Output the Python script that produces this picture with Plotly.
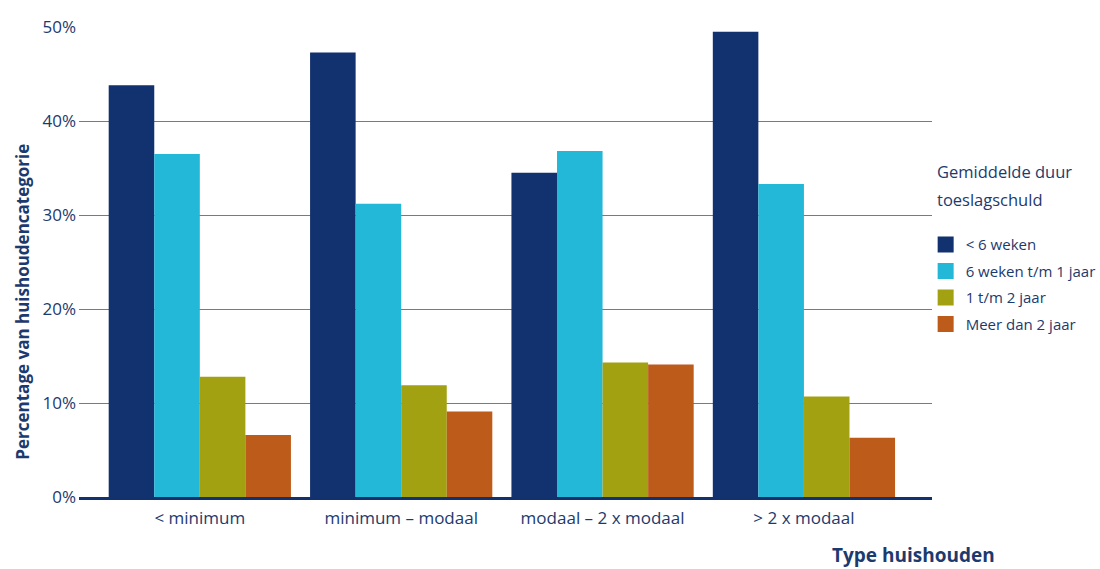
import plotly.graph_objects as go

categories = ["< minimum", "minimum – modaal", "modaal – 2 x modaal", "> 2 x modaal"]
series_names = ["< 6 weken", "6 weken t/m 1 jaar", "1 t/m 2 jaar", "Meer dan 2 jaar"]
lt_6_weken = [43.8, 47.3, 34.5, 49.5]
w6_tm_1jaar = [36.5, 31.2, 36.8, 33.3]
j1_tm_2jaar = [12.8, 11.9, 14.3, 10.7]
meer_2jaar = [6.6, 9.1, 14.1, 6.3]
y_ticks = [0, 10, 20, 30, 40, 50]
y_tick_labels = ["0%", "10%", "20%", "30%", "40%", "50%"]

colors = ["#12316f", "#23b7d8", "#a2a112", "#bd5b1a"]
text_color = "#1c3a6e"
font_family = "'Open Sans', sans-serif"

fig = go.Figure()
for i, (name, vals) in enumerate(zip(series_names, [lt_6_weken, w6_tm_1jaar, j1_tm_2jaar, meer_2jaar])):
    fig.add_trace(go.Bar(x=categories, y=vals, name=name, marker_color=colors[i],
                         marker_line_width=0, showlegend=False))
for i, name in enumerate(series_names):
    fig.add_trace(go.Scatter(x=[None], y=[None], mode="markers", name=name,
                             marker=dict(symbol="square", size=16, color=colors[i]),
                             legendgroup=f"g{i}", hoverinfo="skip"))

fig.update_layout(
    width=1100, height=569,
    margin=dict(l=79, r=168, t=27, b=72, autoexpand=False),
    paper_bgcolor="white", plot_bgcolor="white",
    barmode="group", bargap=0.095, bargroupgap=0,
    font=dict(family=font_family, color=text_color, size=16),
    legend=dict(
        xref="container", yref="container",
        x=0.8415, xanchor="left", y=0.599, yanchor="top",
        font=dict(size=15, color=text_color),
        traceorder="grouped", tracegroupgap=4,
        itemwidth=30,
        bgcolor="rgba(0,0,0,0)",
    ),
    xaxis=dict(
        type="category", range=[-0.6, 3.636],
        showline=True, linecolor="#12316f", linewidth=3,
        showgrid=False, ticks="", ticklabelstandoff=4,
        tickfont=dict(size=17, color=text_color),
    ),
    yaxis=dict(
        range=[0, 50], tickvals=y_ticks, ticktext=y_tick_labels,
        showgrid=True, gridcolor="#6b7a9f", gridwidth=1,
        zeroline=False, showline=False, ticks="", ticklabelstandoff=2,
        tickfont=dict(size=17, color=text_color),
    ),
    annotations=[
        dict(text="<b>Percentage van huishoudencategorie</b>", textangle=-90,
             xref="paper", yref="paper", x=-0.066, y=0.415, xanchor="center", yanchor="middle",
             showarrow=False, font=dict(size=17, color=text_color)),
        dict(text="<b>Type huishouden</b>", xref="paper", yref="paper",
             x=1.076, y=-0.123, xanchor="right", yanchor="middle",
             showarrow=False, font=dict(size=19, color=text_color)),
        dict(text="Gemiddelde duur", xref="paper", yref="paper",
             x=1.004, y=(497 - 172) / 470, xanchor="left", yanchor="middle",
             showarrow=False, font=dict(size=16.5, color=text_color)),
        dict(text="toeslagschuld", xref="paper", yref="paper",
             x=1.004, y=(497 - 199) / 470, xanchor="left", yanchor="middle",
             showarrow=False, font=dict(size=16.5, color=text_color)),
    ],
)

fig.write_html("out.html", config={"displayModeBar": False},
               post_script="document.body.style.margin='0';document.body.style.overflow='hidden';")
